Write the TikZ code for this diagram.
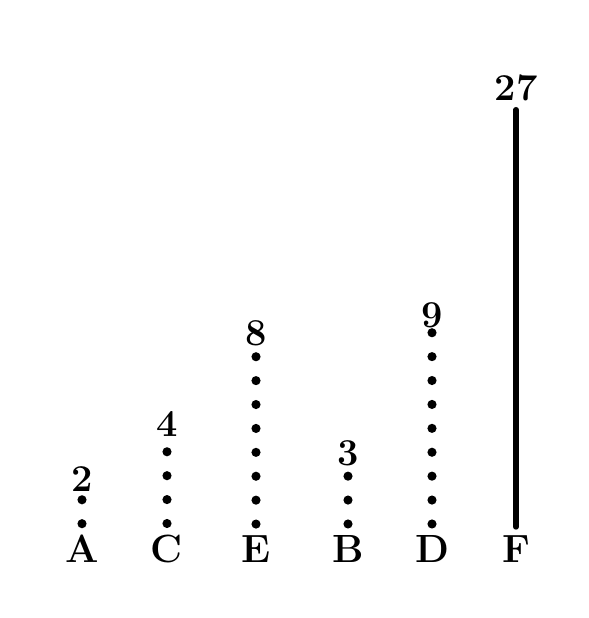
\documentclass[tikz,border=0pt]{standalone}
\usepackage{tikz}

\tikzset{
  letter/.style={font=\fontsize{28}{28}\selectfont\bfseries, inner sep=0pt},
  number/.style={font=\fontsize{27}{27}\selectfont\bfseries, inner sep=0pt},
  dots/.style={line width=6.5pt, line cap=round, dash pattern=on 0pt off 17pt, shorten <=8pt, shorten >=2pt},
  bar/.style={line width=4pt, line cap=round, shorten <=6pt, shorten >=6pt}
}

\begin{document}
\begin{tikzpicture}[x=0.025cm, y=-0.025cm]
				\useasboundingbox (0,0) rectangle (588,618);
				% Letters and numbers
				\foreach \name/\x/\num/\ny in {A/82/2/479, C/167/4/424, E/256/8/333, B/348/3/453, D/432/9/315, F/516/27/88} {
					\node[letter] (lbl-\name) at (\x,549) {\name};
					\node[number] (num-\name) at (\x,\ny) {\num};
				}
				% Dotted lines
				\foreach \name in {A,C,E,B,D}
					\draw[dots] (lbl-\name) -- (num-\name);
				% Solid line
				\draw[bar] (lbl-F) -- (num-F);
			\end{tikzpicture}
\end{document}
